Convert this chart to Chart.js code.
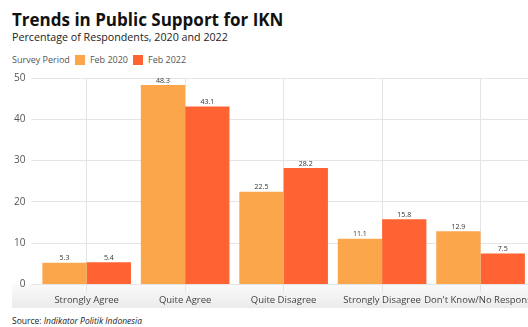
<!DOCTYPE html>
<html>
<head>
<meta charset="utf-8">
<script src="https://cdn.jsdelivr.net/npm/chart.js@4"></script>
<style>
  html, body { margin: 0; padding: 0; background: #fff; overflow: hidden; }
  body { width: 528px; height: 327px; position: relative; font-family: "Open Sans", sans-serif; }
  .title { position: absolute; left: 12px; top: 8px; font-size: 17px; font-weight: 700; color: #111; white-space: nowrap; }
  .subtitle { position: absolute; left: 12px; top: 30px; font-size: 10.7px; color: #222; white-space: nowrap; }
  .legend { position: absolute; left: 12px; top: 53px; font-size: 9px; color: #555; white-space: nowrap; display: flex; align-items: center; }
  .legend .sw { display: inline-block; width: 10px; height: 10px; margin: 0 5px 0 5px; }
  .source { position: absolute; left: 12px; top: 315px; font-size: 8.5px; color: #222; white-space: nowrap; }
  .chart-box { position: absolute; left: 0; top: 66px; width: 539px; height: 242px; }
</style>
</head>
<body>
<div class="title">Trends in Public Support for IKN</div>
<div class="subtitle">Percentage of Respondents, 2020 and 2022</div>
<div class="legend">
  <span>Survey Period</span>
  <span class="sw" style="background:#FCA64C"></span><span>Feb 2020</span>
  <span class="sw" style="background:#FF6333"></span><span>Feb 2022</span>
</div>
<div class="chart-box"><canvas id="ikn"></canvas></div>
<div class="source">Source: <i>Indikator Politik Indonesia</i></div>

<script>
// categories and survey values (%)
const categories = ['Strongly Agree', 'Quite Agree', 'Quite Disagree', 'Strongly Disagree', "Don't Know/No Response"];
const feb2020 = [5.3, 48.3, 22.5, 11.1, 12.9];
const feb2022 = [5.4, 43.1, 28.2, 15.8, 7.5];
const yTicks = [0, 10, 20, 30, 40, 50];

const COLORS = {
  feb2020: '#FCA64C',
  feb2022: '#FF6333',
  grid: '#e4e4e4',
  tick: '#555'
};

// light gray band behind the category labels
const labelBand = {
  id: 'labelBand',
  beforeDraw(chart) {
    const { ctx, chartArea } = chart;
    const top = chartArea.bottom;
    const bottom = top + 25;
    const g = ctx.createLinearGradient(0, top, 0, bottom);
    g.addColorStop(0, '#fafafa');
    g.addColorStop(1, '#eaeaea');
    ctx.save();
    ctx.fillStyle = g;
    ctx.fillRect(12, top, chart.width - 12, bottom - top);
    ctx.restore();
  }
};

// value printed above every bar
const barValues = {
  id: 'barValues',
  afterDatasetsDraw(chart) {
    const { ctx } = chart;
    ctx.save();
    ctx.font = '7px "Open Sans", sans-serif';
    ctx.fillStyle = '#333';
    ctx.textAlign = 'center';
    ctx.textBaseline = 'bottom';
    chart.data.datasets.forEach((ds, i) => {
      chart.getDatasetMeta(i).data.forEach((bar, j) => {
        ctx.fillText(ds.data[j].toFixed(1), bar.x, bar.y - 1);
      });
    });
    ctx.restore();
  }
};

new Chart(document.getElementById('ikn'), {
  type: 'bar',
  data: {
    labels: categories,
    datasets: [
      { label: 'Feb 2020', data: feb2020, backgroundColor: COLORS.feb2020 },
      { label: 'Feb 2022', data: feb2022, backgroundColor: COLORS.feb2022 }
    ]
  },
  options: {
    responsive: true,
    maintainAspectRatio: false,
    animation: false,
    layout: { padding: { left: 8, right: 0, top: 11, bottom: 0 } },
    plugins: {
      legend: { display: false },
      tooltip: { enabled: false }
    },
    datasets: {
      bar: { categoryPercentage: 0.9, barPercentage: 1.0 }
    },
    scales: {
      x: {
        grid: { offset: false, color: COLORS.grid, tickLength: 8 },
        border: { display: false },
        ticks: {
          color: '#444',
          padding: 2,
          maxRotation: 0,
          autoSkip: false,
          font: { family: 'Open Sans', size: 9.5 }
        }
      },
      y: {
        min: 0,
        max: 50,
        afterBuildTicks(axis) { axis.ticks = yTicks.map(v => ({ value: v })); },
        grid: { color: COLORS.grid, tickLength: 6 },
        border: { display: false },
        ticks: {
          color: COLORS.tick,
          padding: 6,
          font: { family: 'Open Sans', size: 10 }
        }
      }
    }
  },
  plugins: [labelBand, barValues]
});
</script>
</body>
</html>
